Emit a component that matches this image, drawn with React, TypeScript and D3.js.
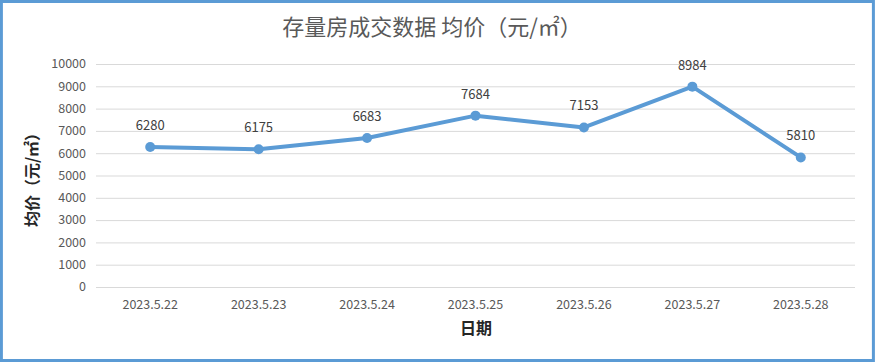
import React from "react";
import * as d3 from "d3";

const categories = ["2023.5.22", "2023.5.23", "2023.5.24", "2023.5.25", "2023.5.26", "2023.5.27", "2023.5.28"];
const values = [6280, 6175, 6683, 7684, 7153, 8984, 5810];
const yTicks = [0, 1000, 2000, 3000, 4000, 5000, 6000, 7000, 8000, 9000, 10000];
const title = "存量房成交数据 均价（元/㎡）";
const xTitle = "日期";
const yTitle = "均价（元/㎡）";

const W = 875;
const H = 362;
const M = { left: 96, right: 855, top: 64, bottom: 287 };

export default function App() {
  const x = d3.scaleBand<string>().domain(categories).range([M.left, M.right]);
  const y = d3.scaleLinear().domain([0, 10000]).range([M.bottom, M.top]);
  const cx = (c: string) => (x(c) ?? 0) + x.bandwidth() / 2;
  const line = d3
    .line<number>()
    .x((_, i) => cx(categories[i]))
    .y((d) => y(d));
  const font = "'Microsoft YaHei', 'Noto Sans CJK SC', 'Noto Sans', sans-serif";
  return (
    <svg
      width={W}
      height={H}
      style={{ position: "absolute", left: 0, top: 0, background: "#fff" }}
      fontFamily={font}
    >
      <rect x={0} y={0} width={W} height={H} fill="#fff" />
      <rect x={1.4} y={1.5} width={872} height={359} fill="none" stroke="#5B9BD5" strokeWidth={3} />
      <text x={432} y={35} textAnchor="middle" fontSize={22} fill="#595959">
        {title}
      </text>
      {yTicks.map((t) => (
        <g key={t}>
          <line x1={M.left} x2={M.right} y1={y(t) + 0.5} y2={y(t) + 0.5} stroke="#D9D9D9" strokeWidth={1} />
          <text x={86} y={y(t)} dy="0.35em" textAnchor="end" fontSize={12.5} fill="#595959">
            {t}
          </text>
        </g>
      ))}
      {categories.map((c) => (
        <text key={c} x={cx(c)} y={309} textAnchor="middle" fontSize={12.5} fill="#595959">
          {c}
        </text>
      ))}
      <path d={line(values) ?? ""} fill="none" stroke="#5B9BD5" strokeWidth={4} strokeLinejoin="round" strokeLinecap="round" />
      {values.map((v, i) => (
        <g key={i}>
          <circle cx={cx(categories[i])} cy={y(v)} r={5} fill="#5B9BD5" />
          <text x={cx(categories[i])} y={y(v) - 17} textAnchor="middle" fontSize={13} fill="#404040">
            {v}
          </text>
        </g>
      ))}
      <text x={476} y={334} textAnchor="middle" fontSize={16} fontWeight="bold" fill="#262626">
        {xTitle}
      </text>
      <text
        transform={`translate(38, 176) rotate(-90)`}
        textAnchor="middle"
        fontSize={16}
        fontWeight="bold"
        fill="#262626"
      >
        {yTitle}
      </text>
    </svg>
  );
}
